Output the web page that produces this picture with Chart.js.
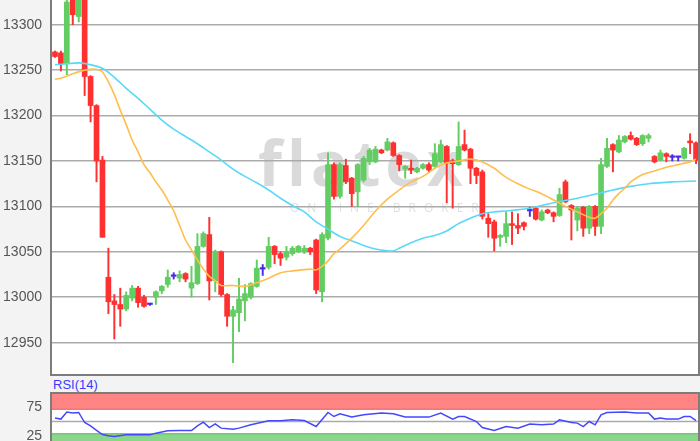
<!DOCTYPE html>
<html>
<head>
<meta charset="utf-8">
<script src="https://cdn.jsdelivr.net/npm/chart.js@4.4.0/dist/chart.umd.min.js"></script>
<style>
  html, body { margin: 0; padding: 0; background: #f3f3f3; }
  #wrap { position: relative; width: 700px; height: 441px; overflow: hidden; background: #f3f3f3; }
  #priceChart { position: absolute; left: 0; top: 0; }
  #rsiChart { position: absolute; left: 0; top: 392px; }
  #rsiLabel { position: absolute; left: 53px; top: 377px; font: 13px 'Liberation Sans', Arial, sans-serif; color: #3a3aff; }
</style>
</head>
<body>
<div id="wrap">
  <canvas id="priceChart" width="700" height="376"></canvas>
  <div id="rsiLabel">RSI(14)</div>
  <canvas id="rsiChart" width="700" height="49"></canvas>
</div>
<script>
// candles (109 bars)
const opens = [13270,13269,13257,13330,13309,13340,13243,13211,13151,13022,
  12996,12992,12987,12999,13010,13000,12992,13000,13007,13014,
  13023,13021,13026,13010,13015,13056,13069,13018,13050,13003,
  12979,12983,12996,13000,13012,13031,13033,13056,13048,13044,
  13048,13050,13050,13054,13063,13006,13065,13146,13111,13145,
  13131,13116,13129,13149,13149,13162,13162,13170,13156,13141,
  13142,13138,13142,13146,13144,13149,13166,13150,13146,13168,
  13163,13142,13138,13087,13083,13066,13067,13081,13079,13082,
  13095,13098,13085,13096,13093,13090,13127,13101,13085,13099,
  13076,13100,13078,13144,13168,13160,13171,13178,13175,13169,
  13175,13155,13151,13158,13154,13154,13153,13172,13170];
const highs = [13271,13271,13335,13340,13345,13345,13244,13212,13155,13054,
  13003,13010,13006,13013,13012,13002,12993,13007,13013,13030,
  13027,13029,13027,13034,13070,13072,13088,13052,13051,13004,
  12990,13021,13014,13016,13041,13036,13066,13057,13050,13056,
  13056,13057,13057,13055,13064,13071,13159,13148,13148,13152,
  13132,13147,13155,13164,13166,13163,13175,13171,13157,13145,
  13151,13143,13147,13148,13169,13173,13167,13152,13193,13184,
  13164,13143,13140,13092,13085,13069,13094,13094,13092,13083,
  13099,13099,13096,13097,13094,13120,13129,13102,13100,13100,
  13101,13101,13153,13175,13169,13178,13178,13182,13176,13179,
  13180,13156,13162,13159,13157,13154,13165,13180,13171];
const lows = [13264,13249,13245,13300,13303,13222,13193,13127,13066,12982,
  12954,12968,12985,12996,12989,12989,12991,12992,13004,13011,
  13020,13017,13017,13000,13014,13055,12997,13006,13001,12968,
  12928,12962,12974,12998,13011,13024,13031,13037,13035,13041,
  13046,13049,13048,13047,13004,12995,13063,13108,13109,13125,
  13100,13100,13127,13146,13148,13158,13161,13155,13139,13131,
  13136,13137,13141,13138,13143,13148,13104,13098,13145,13161,
  13125,13125,13086,13066,13051,13056,13060,13058,13070,13074,
  13089,13085,13084,13092,13083,13089,13104,13063,13073,13067,
  13070,13068,13070,13143,13138,13159,13170,13173,13167,13167,
  13171,13148,13150,13149,13150,13150,13152,13158,13147];
const closes = [13265,13257,13325,13311,13335,13243,13211,13150,13066,12995,
  12992,12987,13002,13010,12994,12990,12992,13006,13012,13022,
  13023,13025,13020,13016,13056,13070,13018,13050,13003,12979,
  12986,12998,13004,13015,13032,13031,13056,13047,13043,13050,
  13054,13056,13054,13050,13008,13069,13146,13111,13146,13127,
  13114,13146,13153,13162,13163,13159,13171,13156,13146,13144,
  13140,13142,13146,13140,13158,13168,13148,13147,13166,13162,
  13142,13134,13089,13081,13065,13068,13081,13079,13076,13078,
  13095,13086,13094,13093,13089,13113,13105,13096,13098,13076,
  13100,13078,13146,13164,13162,13173,13177,13174,13168,13178,
  13178,13149,13159,13155,13154,13154,13164,13170,13151];

// moving averages, [bar index, value] read at points along each curve
const maShort = [[0,13240],[1,13241],[3,13246],[5,13250],[7,13251],[8,13248],[9,13237],[10,13223],
  [11,13206],[12,13190],[13,13173],[14,13160],[15,13146],[16,13137],[17,13127],[18,13118],[19,13107],
  [20,13095],[21,13079],[22,13063],[23,13052],[24,13041],[25,13031],[26,13023],[27,13018],[28,13013],
  [30,13013],[32,13012],[34,13016],[36,13021],[38,13027],[40,13029],[43,13031],[44,13030],[45,13034],
  [46,13040],[47,13048],[48,13053],[50,13065],[52,13079],[54,13095],[56,13108],[58,13118],[60,13127],
  [62,13133],[64,13142],[66,13148],[68,13150],[70,13152],[72,13149],[74,13142],[76,13132],[78,13125],
  [80,13119],[82,13114],[84,13107],[86,13100],[88,13094],[90,13088],[91,13087],[92,13092],[93,13098],
  [94,13107],[95,13114],[96,13120],[97,13127],[99,13135],[101,13139],[103,13143],[105,13146],
  [107,13149],[108,13152]];
const maLong = [[0,13256],[2,13257],[4,13258],[6,13256],[8,13252],[10,13242],[12,13230],[14,13219],
  [16,13207],[18,13195],[20,13185],[22,13177],[24,13169],[26,13160],[28,13151],[30,13141],[32,13133],
  [34,13126],[36,13118],[38,13109],[40,13101],[42,13094],[44,13083],[46,13075],[48,13067],[50,13062],
  [52,13057],[54,13053],[56,13051],[57,13051],[58,13054],[60,13060],[62,13065],[64,13068],[66,13073],
  [68,13081],[70,13087],[72,13092],[74,13094],[76,13095],[80,13098],[84,13104],[88,13109],[92,13115],
  [94,13118],[97,13122],[100,13125],[104,13127],[108,13128]];

// RSI(14)
const rsi = [[0,55.8],[1,54.1],[2,66],[3,64.5],[4,65.3],[5,48.3],[6,42.7],[7,35],[8,28],[9,26],
  [10,24.5],[12,27.4],[13,27.4],[16,27.4],[17,30.3],[19,34.2],[21,34.7],[23,34.7],[24,42.7],[25,49],
  [26,39.8],[27,46.1],[28,38.8],[30,37.1],[31,38.8],[33,44.4],[36,51.2],[38,51.2],[40,52.9],[42,51.7],
  [44,41.5],[46,65.3],[47,58.5],[48,63.1],[50,57.5],[52,61.4],[55,64.3],[57,63.1],[59,57.5],[61,57.5],
  [63,57.5],[65,64.3],[67,54.1],[68,58.5],[69,58.5],[71,50],[72,39.8],[74,34.7],[76,41.5],[78,38.8],
  [80,45.6],[82,44.4],[84,45.6],[85,52.9],[87,48.3],[88,47.3],[89,41.5],[90,50],[91,44.4],[92,61.4],
  [93,65.3],[96,66],[98,64.3],[100,64.3],[101,54.1],[102,55.8],[103,54.1],[105,54.1],[106,58.5],
  [107,58.5],[108,51.7]];

const priceTicks = [12950, 13000, 13050, 13100, 13150, 13200, 13250, 13300];
const rsiTicks = [25, 75];
const rsiUpper = 70, rsiMid = 50, rsiLower = 30;

const labels = opens.map((_, i) => String(i + 1));

const upColor = '#62cd62';
const downColor = '#ff3030';
const dojiColor = '#4a2ae8';
const frameColor = '#7d7d7d';
const labelFont = { family: "'Liberation Sans', Arial, sans-serif", size: 14 };

function candleColor(i) {
    if (closes[i] > opens[i]) return upColor;
    if (closes[i] < opens[i]) return downColor;
    return dojiColor;
}
const colors = opens.map((_, i) => candleColor(i));

function toPoints(pairs) {
    return pairs.map(([i, v]) => ({ x: labels[i], y: v }));
}

// white plot area, frame lines and the watermark
const panelPlugin = {
    id: 'panel',
    beforeDraw(chart, args, opts) {
        const { ctx, chartArea: a } = chart;
        ctx.save();
        ctx.fillStyle = '#ffffff';
        ctx.fillRect(a.left, a.top, a.right - a.left, a.bottom - a.top);
        if (opts.watermark) {
            ctx.fillStyle = '#dadada';
            ctx.font = "700 62px 'Open Sans', sans-serif";
            ctx.letterSpacing = '5px';
            ctx.fillText('flatex', 258, 186);
            ctx.fillStyle = '#e0e0e0';
            ctx.font = "12px 'Open Sans', sans-serif";
            ctx.letterSpacing = '8px';
            ctx.fillText('ONLINE BROKER', 290, 212);
        }
        ctx.restore();
    },
    afterDraw(chart, args, opts) {
        const { ctx, chartArea: a } = chart;
        ctx.save();
        ctx.strokeStyle = frameColor;
        ctx.lineWidth = 2;
        ctx.beginPath();
        ctx.moveTo(a.left - 1, 0);
        ctx.lineTo(a.left - 1, chart.height);
        ctx.moveTo(a.right, 0);
        ctx.lineTo(a.right, chart.height);
        if (opts.bottom) {
            ctx.moveTo(a.left - 1, a.bottom);
            ctx.lineTo(a.right, a.bottom);
        }
        if (opts.top) {
            ctx.moveTo(a.left - 1, a.top + 1);
            ctx.lineTo(a.right, a.top + 1);
        }
        ctx.stroke();
        ctx.restore();
    }
};

// RSI zones drawn through the y scale
const rsiZonesPlugin = {
    id: 'rsiZones',
    beforeDatasetsDraw(chart) {
        const { ctx, chartArea: a, scales: { y } } = chart;
        const w = a.right - a.left;
        const top = y.getPixelForValue(100);
        const up = y.getPixelForValue(rsiUpper);
        const mid = y.getPixelForValue(rsiMid);
        const lo = y.getPixelForValue(rsiLower);
        ctx.save();
        ctx.fillStyle = '#ff8585';
        ctx.fillRect(a.left, top, w, up - top);
        ctx.fillStyle = '#8ad68a';
        ctx.fillRect(a.left, lo, w, a.bottom - lo);
        ctx.lineWidth = 1;
        ctx.strokeStyle = '#e06a6a';
        ctx.beginPath();
        ctx.moveTo(a.left, up - 0.5); ctx.lineTo(a.right, up - 0.5);
        ctx.stroke();
        ctx.strokeStyle = '#66b866';
        ctx.beginPath();
        ctx.moveTo(a.left, lo + 0.5); ctx.lineTo(a.right, lo + 0.5);
        ctx.stroke();
        ctx.strokeStyle = '#aaaaaa';
        ctx.lineWidth = 1.5;
        ctx.beginPath();
        ctx.moveTo(a.left, mid); ctx.lineTo(a.right, mid);
        ctx.stroke();
        ctx.restore();
    }
};

function fitLeftAxis(scale) {
    scale.width = 52;
    scale.paddingTop = 0;
    scale.paddingBottom = 0;
}

new Chart(document.getElementById('priceChart'), {
    type: 'bar',
    data: {
        labels: labels,
        datasets: [
            {
                type: 'line',
                label: 'MA short',
                data: toPoints(maShort),
                borderColor: '#ffbe4d',
                borderWidth: 1.6,
                pointRadius: 0,
                tension: 0.3,
                order: 0
            },
            {
                type: 'line',
                label: 'MA long',
                data: toPoints(maLong),
                borderColor: '#5ad8f8',
                borderWidth: 1.6,
                pointRadius: 0,
                tension: 0.3,
                order: 1
            },
            {
                label: 'wick',
                data: lows.map((l, i) => [l, highs[i]]),
                backgroundColor: colors,
                barThickness: 1.3,
                grouped: false,
                order: 3
            },
            {
                label: 'body',
                data: opens.map((o, i) => [o, closes[i]]),
                backgroundColor: colors,
                barThickness: 5,
                minBarLength: 1.5,
                grouped: false,
                order: 2
            }
        ]
    },
    options: {
        responsive: false,
        animation: false,
        events: [],
        layout: { padding: { left: 0, right: 1, top: 0, bottom: 1 } },
        plugins: {
            legend: { display: false },
            tooltip: { enabled: false },
            panel: { watermark: true, bottom: true }
        },
        scales: {
            x: { display: false, offset: true },
            y: {
                min: 12914.4,
                max: 13327.2,
                afterFit: fitLeftAxis,
                afterBuildTicks(scale) { scale.ticks = priceTicks.map(v => ({ value: v })); },
                border: { display: false },
                grid: { color: '#ababab', lineWidth: 1.5, drawTicks: false },
                ticks: { color: '#555555', font: labelFont, padding: 10, callback: v => String(v) }
            }
        }
    },
    plugins: [panelPlugin]
});

new Chart(document.getElementById('rsiChart'), {
    type: 'line',
    data: {
        labels: labels,
        datasets: [{
            label: 'RSI(14)',
            data: toPoints(rsi),
            borderColor: '#4646ff',
            borderWidth: 1.5,
            pointRadius: 0,
            tension: 0
        }]
    },
    options: {
        responsive: false,
        animation: false,
        events: [],
        layout: { padding: { left: 0, right: 1, top: 0, bottom: 0 } },
        plugins: {
            legend: { display: false },
            tooltip: { enabled: false },
            panel: { top: true }
        },
        scales: {
            x: { display: false, offset: true },
            y: {
                min: 17,
                max: 100,
                afterFit: fitLeftAxis,
                afterBuildTicks(scale) { scale.ticks = rsiTicks.map(v => ({ value: v })); },
                border: { display: false },
                grid: { display: false, drawTicks: false },
                ticks: { color: '#555555', font: labelFont, padding: 10, callback: v => String(v) }
            }
        }
    },
    plugins: [panelPlugin, rsiZonesPlugin]
});
</script>
</body>
</html>
